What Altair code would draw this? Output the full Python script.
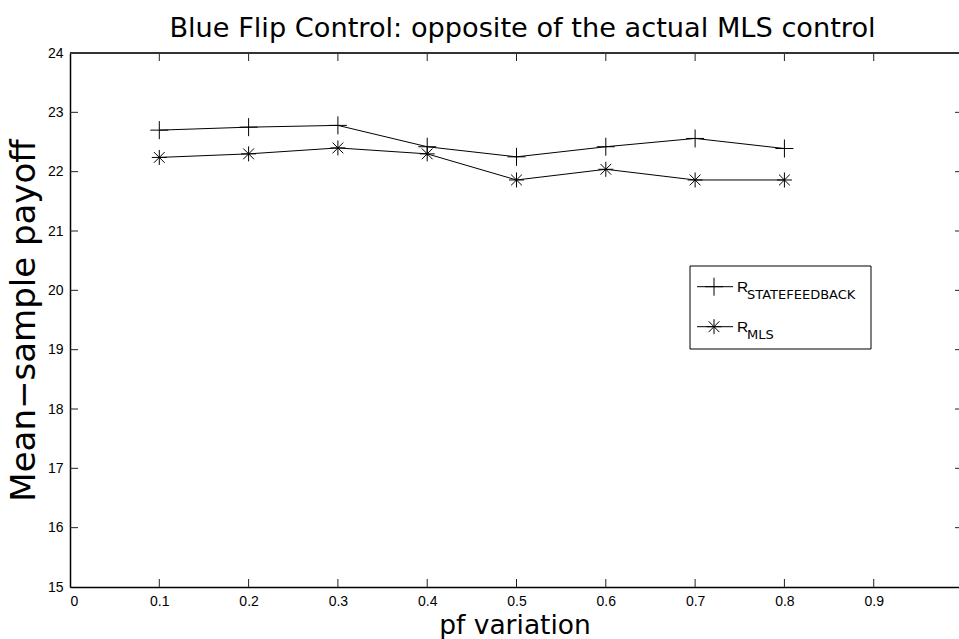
import altair as alt
import pandas as pd

pf = [0.1, 0.2, 0.3, 0.4, 0.5, 0.6, 0.7, 0.8]
r_state = [22.70, 22.75, 22.78, 22.42, 22.25, 22.42, 22.56, 22.39]
r_mls = [22.24, 22.30, 22.40, 22.30, 21.86, 22.04, 21.86, 21.86]
x_ticks = [0, 0.1, 0.2, 0.3, 0.4, 0.5, 0.6, 0.7, 0.8, 0.9]
y_ticks = [15, 16, 17, 18, 19, 20, 21, 22, 23, 24]

W, H = 889, 534
FONT = "Liberation Sans"
TFONT = "DejaVu Sans"
PLUS = "M-1,0L1,0M0,-1L0,1"
STAR = "M-1,0L1,0M0,-1L0,1M-0.72,-0.72L0.72,0.72M-0.72,0.72L0.72,-0.72"

df_s = pd.DataFrame({"pf": pf, "val": r_state})
df_m = pd.DataFrame({"pf": pf, "val": r_mls})
df_xt = pd.DataFrame({"t": x_ticks[1:]})
df_yt = pd.DataFrame({"t": y_ticks[1:-1]})

xs = alt.Scale(domain=[0, 0.9955], nice=False, zero=False)
ys = alt.Scale(domain=[15, 24], nice=False, zero=False)

xax = alt.Axis(values=x_ticks, format="~g", ticks=False, grid=False, labelFont=FONT,
               labelFontSize=14, labelColor="black", labelPadding=7, domainColor="black",
               domainWidth=1.5, title="pf variation", titleFont=TFONT, titleFontSize=26.5,
               titleFontWeight="normal", titleColor="black", titlePadding=4)
yax = alt.Axis(values=y_ticks, format="d", ticks=False, grid=False, labelFont=FONT,
               labelFontSize=14, labelColor="black", labelPadding=7, domainColor="black",
               domainWidth=1.5, title="Mean\u2212sample payoff", titleFont=TFONT,
               titleFontSize=34, titleFontWeight="normal", titleColor="black",
               titlePadding=6)

base_s = alt.Chart(df_s)
line_s = base_s.mark_line(color="black", strokeWidth=1).encode(
    x=alt.X("pf:Q", scale=xs, axis=xax), y=alt.Y("val:Q", scale=ys, axis=yax))
pt_s = base_s.mark_point(shape=PLUS, size=324, filled=False, stroke="black",
                         strokeWidth=1, opacity=1).encode(
    x=alt.X("pf:Q", scale=xs), y=alt.Y("val:Q", scale=ys))
base_m = alt.Chart(df_m)
line_m = base_m.mark_line(color="black", strokeWidth=1).encode(
    x=alt.X("pf:Q", scale=xs), y=alt.Y("val:Q", scale=ys))
pt_m = base_m.mark_point(shape=STAR, size=225, filled=False, stroke="black",
                         strokeWidth=1, opacity=1).encode(
    x=alt.X("pf:Q", scale=xs), y=alt.Y("val:Q", scale=ys))

tick_col = "#222"
xt_bot = alt.Chart(df_xt).mark_rule(color=tick_col, strokeWidth=1).encode(
    x=alt.X("t:Q", scale=xs), y=alt.value(H), y2=alt.value(H - 8))
xt_top = alt.Chart(df_xt).mark_rule(color=tick_col, strokeWidth=1).encode(
    x=alt.X("t:Q", scale=xs), y=alt.value(0), y2=alt.value(8))
yt_left = alt.Chart(df_yt).mark_rule(color=tick_col, strokeWidth=1).encode(
    y=alt.Y("t:Q", scale=ys), x=alt.value(0), x2=alt.value(8))
yt_right = alt.Chart(df_yt).mark_rule(color=tick_col, strokeWidth=1).encode(
    y=alt.Y("t:Q", scale=ys), x=alt.value(W - 4), x2=alt.value(W))
top_line = alt.Chart(df_xt).mark_rule(color="#333", strokeWidth=2).encode(
    x=alt.value(0), x2=alt.value(W), y=alt.value(0))

# legend
LX0, LX1, LY0, LY1 = 620, 801, 213, 296
one = pd.DataFrame({"a": [0]})
leg_box = alt.Chart(one).mark_rect(fill="white", stroke="black", strokeWidth=1).encode(
    x=alt.value(LX0), x2=alt.value(LX1), y=alt.value(LY0), y2=alt.value(LY1))
leg = [leg_box]
for yy, shp, sz, sub in [(233.7, PLUS, 324, "STATEFEEDBACK"), (273.7, STAR, 225, "MLS")]:
    leg.append(alt.Chart(one).mark_rule(color="black", strokeWidth=1).encode(
        x=alt.value(627), x2=alt.value(663), y=alt.value(yy)))
    leg.append(alt.Chart(one).mark_point(shape=shp, size=sz, filled=False, stroke="black",
                                         strokeWidth=1, opacity=1).encode(
        x=alt.value(644), y=alt.value(yy)))
    leg.append(alt.Chart(one).mark_text(text="R", font=FONT, fontSize=15.5, align="left",
                                        baseline="alphabetic", color="black").encode(
        x=alt.value(667), y=alt.value(yy + 5.5)))
    leg.append(alt.Chart(one).mark_text(text=sub, font=TFONT, fontSize=13, align="left",
                                        baseline="alphabetic", color="black").encode(
        x=alt.value(677), y=alt.value(yy + 12)))

chart = alt.layer(line_s, pt_s, line_m, pt_m, xt_bot, xt_top, yt_left, yt_right,
                  top_line, *leg).properties(
    width=W, height=H,
    title=alt.Title("Blue Flip Control: opposite of the actual MLS control", font=TFONT,
                    fontSize=27.2, fontWeight="normal", color="black", anchor="middle",
                    offset=3, dx=8),
    autosize=alt.AutoSizeParams(type="none"),
    padding={"left": 70, "top": 53, "right": 0, "bottom": 52},
).configure_view(stroke=None).configure(background="white")

chart.save("out.html", embed_options={"renderer": "svg", "actions": False})
